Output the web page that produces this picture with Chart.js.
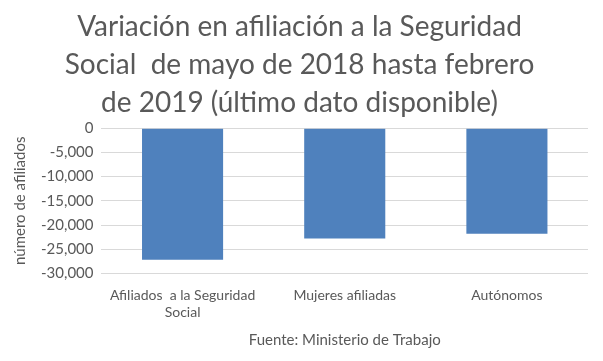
<!DOCTYPE html>
<html>
<head>
<meta charset="utf-8">
<script src="https://cdn.jsdelivr.net/npm/chart.js@4"></script>
<style>
  html, body { margin: 0; padding: 0; background: #fff; }
  #wrap { width: 603px; height: 361px; position: relative; }
</style>
</head>
<body>
<div id="wrap"><canvas id="barChart"></canvas></div>
<script>
const categories = [["Afiliados  a la Seguridad", "Social"], "Mujeres afiliadas", "Autónomos"];
const variation = [-27200, -22800, -21800];
const yTicks = [0, -5000, -10000, -15000, -20000, -25000, -30000];

const fontFamily = "Lato, 'Open Sans', sans-serif";
const gray = '#595959';

const ctx = document.getElementById("barChart");

const myChart = new Chart(ctx, {
  type: 'bar',
  data: {
    labels: categories,
    datasets: [{
      label: 'Variación',
      data: variation,
      backgroundColor: '#4f81bd',
      borderWidth: 0,
      categoryPercentage: 0.5,
      barPercentage: 1
    }]
  },
  options: {
    responsive: true,
    maintainAspectRatio: false,
    animation: false,
    layout: { padding: { left: 11, right: 15, top: 8, bottom: 12 } },
    scales: {
      x: {
        grid: { display: false },
        border: { display: false },
        ticks: { color: gray, font: { family: fontFamily, size: 14 }, maxRotation: 0, padding: 6 }
      },
      y: {
        min: -30000,
        max: 0,
        afterBuildTicks: (axis) => { axis.ticks = yTicks.map(v => ({ value: v })); },
        grid: { color: '#d9d9d9', drawTicks: false },
        border: { display: false },
        ticks: {
          color: gray,
          font: { family: fontFamily, size: 15 },
          padding: 8,
          callback: (v) => v.toLocaleString('en-US')
        },
        title: {
          display: true,
          text: 'número de afiliados',
          color: gray,
          font: { family: fontFamily, size: 15 },
          padding: { top: 0, bottom: 4 }
        }
      }
    },
    plugins: {
      legend: { display: false },
      tooltip: { enabled: false },
      title: {
        display: true,
        text: ['Variación en afiliación a la Seguridad', 'Social  de mayo de 2018 hasta febrero', 'de 2019 (último dato disponible)'],
        color: gray,
        font: { family: fontFamily, size: 28, weight: 'normal', lineHeight: 1.36 },
        padding: { top: 0, bottom: 6 }
      },
      subtitle: {
        display: true,
        position: 'bottom',
        fullSize: false,
        text: 'Fuente: Ministerio de Trabajo',
        color: gray,
        font: { family: fontFamily, size: 15 },
        padding: { top: 4, bottom: 0 }
      }
    }
  }
});
</script>
</body>
</html>
